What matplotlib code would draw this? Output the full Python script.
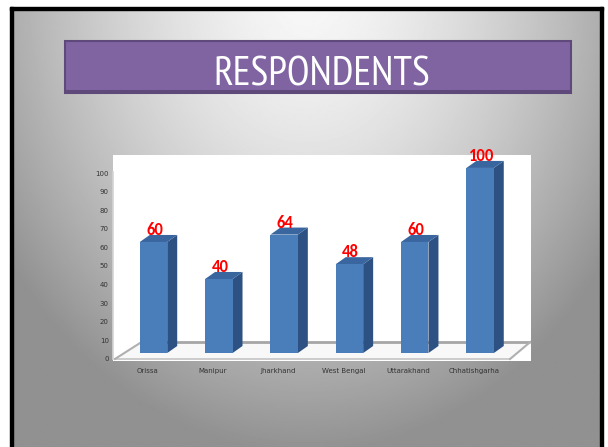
import numpy as np
import matplotlib
matplotlib.use("Agg")
import matplotlib.pyplot as plt
from matplotlib.patches import Rectangle, Polygon
from matplotlib.transforms import ScaledTranslation

states = ["Orissa", "Manipur", "Jharkhand", "West Bengal", "Uttarakhand", "Chhatishgarha"]
respondents = [60, 40, 64, 48, 60, 100]
y_ticks = list(range(0, 101, 10))
title = "RESPONDENTS"

W, H = 608, 447
fig = plt.figure(figsize=(W / 100, H / 100), dpi=100)
fig.patch.set_facecolor("white")

# slide background, in pixel coordinates
bg = fig.add_axes([0, 0, 1, 1])
bg.set_xlim(0, W)
bg.set_ylim(H, 0)
bg.axis("off")
yy, xx = np.mgrid[0:H, 0:W]
d = np.sqrt(((xx - 304) / 380.0) ** 2 + ((yy + 20) / 470.0) ** 2)
grey = 0.97 - 0.40 * np.clip(d, 0, 1.0) ** 1.5
bg.imshow(grey, cmap="gray", vmin=0, vmax=1, extent=(13, 600, H, 10), zorder=0, aspect="auto")
bg.add_patch(Rectangle((10, 7), 593, 3, color="black", zorder=1))
bg.add_patch(Rectangle((10, 7), 3, H, color="black", zorder=1))
bg.add_patch(Rectangle((600, 7), 3, H, color="black", zorder=1))

# title banner
bg.add_patch(Rectangle((65, 41), 506, 52, facecolor="#8064A2", edgecolor="#5F497A", lw=1.5, zorder=2))
bg.add_patch(Rectangle((65, 90), 506, 3.5, facecolor="#5F497A", edgecolor="none", zorder=3))
t = bg.text(321.4, 85, title, color="white", fontsize=28, family=["PT Sans Narrow", "Carlito", "DejaVu Sans"],
            ha="center", va="baseline", zorder=4)
renderer = fig.canvas.get_renderer()
t.set_fontsize(28 * 217 / t.get_window_extent(renderer).width)

# chart area
ax = fig.add_axes([113 / W, (H - 361) / H, 418 / W, 206 / H])
ax.set_facecolor("white")
ax.set_xlim(-0.62, 5.78)
ax.set_ylim(-4.3, 107.0)
for s in ax.spines.values():
    s.set_visible(False)

x = np.arange(len(states))
bw = 0.42
dx, dy = 0.153, 3.8

# floor
floor = Polygon([(-0.59, -3.2), (-0.18, 6.0), (5.77, 6.0), (5.46, -3.2)], closed=True,
                facecolor="#F8F8F8", edgecolor="none", zorder=1)
ax.add_patch(floor)
ax.plot([-0.18, 5.77], [6.0, 6.0], color="#A6A6A6", lw=2, zorder=2, solid_capstyle="butt")
ax.plot([-0.59, 5.46], [-3.2, -3.2], color="#C4C4C4", lw=1.2, zorder=2)
ax.plot([-0.59, -0.18], [-3.2, 6.0], color="#B0B0B0", lw=1.5, zorder=2)
ax.plot([5.46, 5.77], [-3.2, 6.0], color="#B0B0B0", lw=1.5, zorder=2)
ax.plot([-0.62, -0.62], [-3.0, 98], color="#D4D4D4", lw=1.2, zorder=2, clip_on=False)

ax.bar(x, respondents, width=bw, bottom=0, color="#4A7EBB", zorder=5)
for xi, v in zip(x, respondents):
    l, r = xi - bw / 2, xi + bw / 2
    ax.add_patch(Polygon([(r, 0), (r + dx, dy), (r + dx, v + dy), (r, v)],
                         facecolor="#2E5183", edgecolor="none", zorder=4))
    ax.add_patch(Polygon([(l, v), (l + dx, v + dy), (r + dx, v + dy), (r, v)],
                         facecolor="#3A66A0", edgecolor="none", zorder=4))
    ax.text(xi + 0.02, v + dy, str(v), color="#FF0000", fontsize=12, fontweight="bold",
            family=["Carlito", "DejaVu Sans"], ha="center", va="baseline",
            zorder=6, clip_on=False)

ax.set_xticks(x)
ax.set_xticklabels(states, fontsize=5, color="#333333")
ax.set_yticks(y_ticks)
ax.set_yticklabels([str(t) for t in y_ticks], fontsize=5, color="#333333")
ax.tick_params(length=0, pad=5)
ax.tick_params(axis="y", pad=3)
for lab in ax.get_xticklabels():
    lab.set_transform(lab.get_transform() + ScaledTranslation(-6 / 100, 0, fig.dpi_scale_trans))
for lab in ax.get_yticklabels():
    lab.set_transform(lab.get_transform() + ScaledTranslation(0, -5.5 / 100, fig.dpi_scale_trans))

fig.savefig("out.png", dpi=100)
